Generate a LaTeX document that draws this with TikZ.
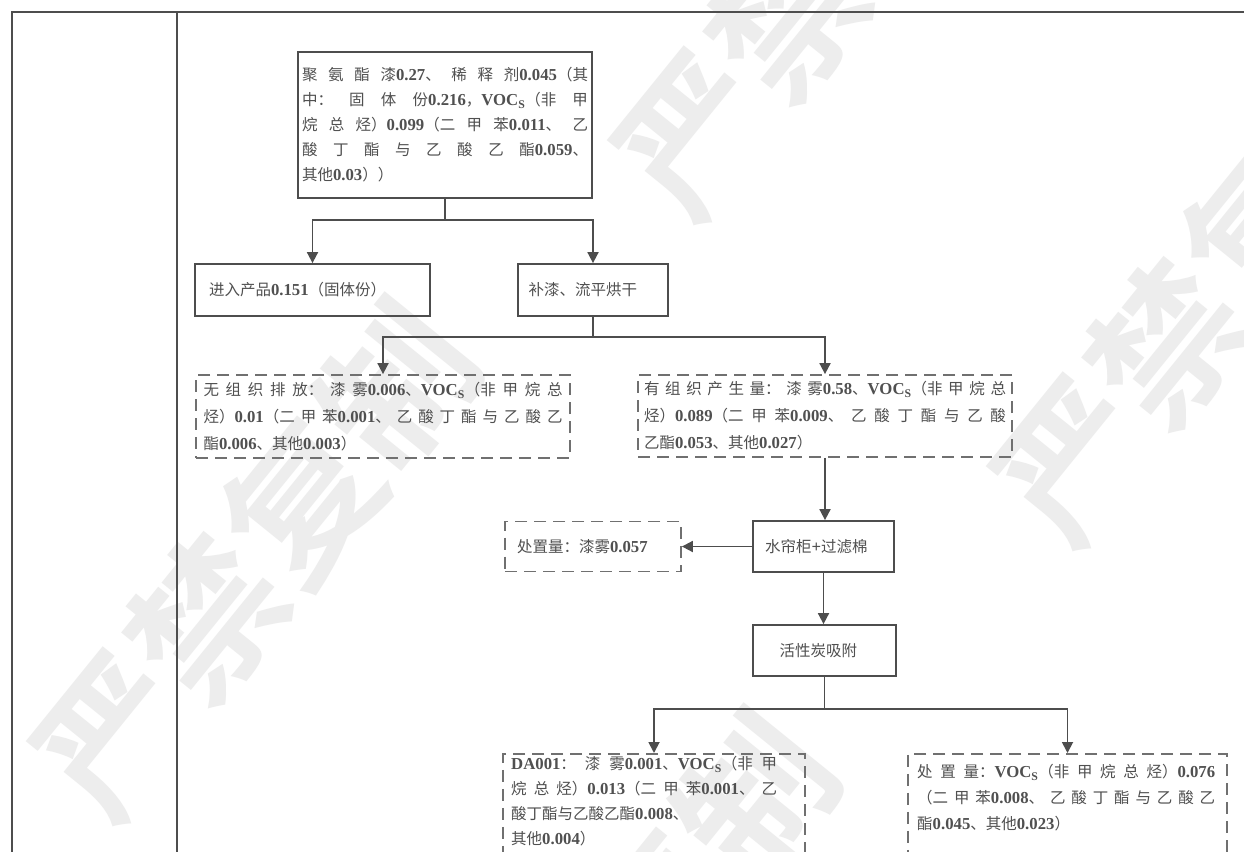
\documentclass[tikz,border=0pt]{standalone}
\usepackage{fontspec}
\setmainfont{Noto Sans CJK SC}
\newfontfamily\latf[Scale=1.08]{Liberation Serif}
\newfontfamily\wmf{Noto Sans CJK SC Bold}
\newcommand\ltn[1]{{\latf\bfseries #1}}
\newcommand\vocs{{\latf\bfseries VOC\textsubscript{S}}}
\usetikzlibrary{arrows.meta}
\XeTeXlinebreaklocale "zh"
\XeTeXlinebreakskip=0pt plus 30pt
\definecolor{ln}{HTML}{4D4D4D}
\definecolor{dl}{HTML}{707070}
\definecolor{tx}{HTML}{505050}
\definecolor{wm}{HTML}{EDEDED}
\tikzset{
  sbox/.style={draw=ln, line width=1.8pt, inner sep=0pt, text=tx, align=justify, font=\fontsize{15.5}{25}\selectfont},
  dbox/.style={draw=dl, line width=1.8pt, dash pattern=on 12pt off 7pt, inner sep=0pt, text=tx, align=justify, font=\fontsize{15.5}{27}\selectfont},
  txt/.style={inner sep=0pt, text=tx, align=justify, font=\fontsize{15.5}{25}\selectfont},
  conn/.style={draw=ln, line width=1.8pt},
  arr/.style={conn, -{Triangle[width=11pt,length=11pt]}},
  frame/.style={draw=ln, line width=2pt},
  wmark/.style={text=wm, font=\wmf\fontsize{150}{150}\selectfont, rotate=51, inner sep=0pt}
}
\begin{document}
\begin{tikzpicture}[x=1pt,y=-1pt]
\clip (0,0) rectangle (1244,851);
\fill[white] (0,0) rectangle (1244,851);
% watermarks
\node[wmark] (wa) at (255,560) {严禁复制};
\node[wmark] (wb) at (836,-41) {严禁复制};
\node[wmark] (wc) at (614,971) {严禁复制};
\node[wmark] (wd) at (1215,285) {严禁复制};
% table frame
\draw[frame] (12,900) -- (12,12) -- (1260,12);
\draw[frame] (177,12) -- (177,900);
% nodes
\node[sbox, minimum width=294pt, minimum height=146pt, text width=286pt] (top) at (445,125)
  {聚氨酯漆\ltn{0.27}、稀释剂\ltn{0.045}（其\break
   中：固体份\ltn{0.216}，\vocs（非甲\break
   烷总烃）\ltn{0.099}（二甲苯\ltn{0.011}、乙\break
   酸丁酯与乙酸乙酯\ltn{0.059}、\break
   其他\ltn{0.03}））};
\node[sbox, minimum width=235pt, minimum height=52pt, text width=207pt] (prod) at (312.5,290)
  {\parfillskip=0pt 进入产品\ltn{0.151}（固体份）};
\node[sbox, minimum width=150pt, minimum height=52pt, text width=129pt] (paint) at (593,290)
  {\parfillskip=0pt 补漆、流平烘干};
\node[dbox, minimum width=374pt, minimum height=83pt, text width=359pt] (d1) at (383,416.5)
  {无组织排放：漆雾\ltn{0.006}、\vocs（非甲烷总\break
   烃）\ltn{0.01}（二甲苯\ltn{0.001}、乙酸丁酯与乙酸乙\break
   酯\ltn{0.006}、其他\ltn{0.003}）};
\node[dbox, minimum width=374pt, minimum height=82pt, text width=362pt] (d2) at (825,416)
  {有组织产生量：漆雾\ltn{0.58}、\vocs（非甲烷总\break
   烃）\ltn{0.089}（二甲苯\ltn{0.009}、乙酸丁酯与乙酸\break
   乙酯\ltn{0.053}、其他\ltn{0.027}）};
\node[sbox, minimum width=141pt, minimum height=51pt, text width=117pt] (water) at (823.5,546.5)
  {\parfillskip=0pt 水帘柜\ltn{+}过滤棉};
\node[dbox, minimum width=176pt, minimum height=50pt, text width=152pt] (d3) at (593,546.5)
  {\parfillskip=0pt 处置量：漆雾\ltn{0.057}};
\node[sbox, minimum width=143pt, minimum height=51pt, text width=90pt] (carbon) at (824.5,650.5)
  {\parfillskip=0pt 活性炭吸附};
\node[dbox, minimum width=302pt, minimum height=140pt, anchor=north] (d4) at (654,753) {};
\node[txt, text width=266pt, anchor=north west] (d4t) at (511,756)
  {\ltn{DA001}：漆雾\ltn{0.001}、\vocs（非甲\break
   烷总烃）\ltn{0.013}（二甲苯\ltn{0.001}、乙\break
   酸丁酯与乙酸乙酯\ltn{0.008}、\\
   其他\ltn{0.004}）};
\node[dbox, minimum width=319pt, minimum height=140pt, anchor=north] (d5) at (1067.5,753) {};
\node[txt, text width=298pt, anchor=north west, font=\fontsize{15.5}{26}\selectfont] (d5t) at (917,764)
  {处置量：\vocs（非甲烷总烃）\ltn{0.076}\break
   （二甲苯\ltn{0.008}、乙酸丁酯与乙酸乙\break
   酯\ltn{0.045}、其他\ltn{0.023}）};
% connectors
\coordinate (j1) at (445,220);
\coordinate (j2) at (593,337);
\coordinate (j3) at (824.5,709);
\draw[conn] (top.south) -- (j1);
\draw[arr] (j1) -| (prod.north);
\draw[arr] (j1) -| (paint.north);
\draw[conn] (paint.south) -- (j2);
\draw[arr] (j2) -| (d1.north);
\draw[arr] (j2) -| (d2.north);
\draw[arr] (d2.south) -- (d2.south |- water.north);
\draw[arr] (water.west) -- (d3.east);
\draw[arr] (water.south) -- (water.south |- carbon.north);
\draw[conn] (carbon.south) -- (j3);
\draw[arr] (j3) -| (d4.north);
\draw[arr] (j3) -| (d5.north);
\end{tikzpicture}
\end{document}
